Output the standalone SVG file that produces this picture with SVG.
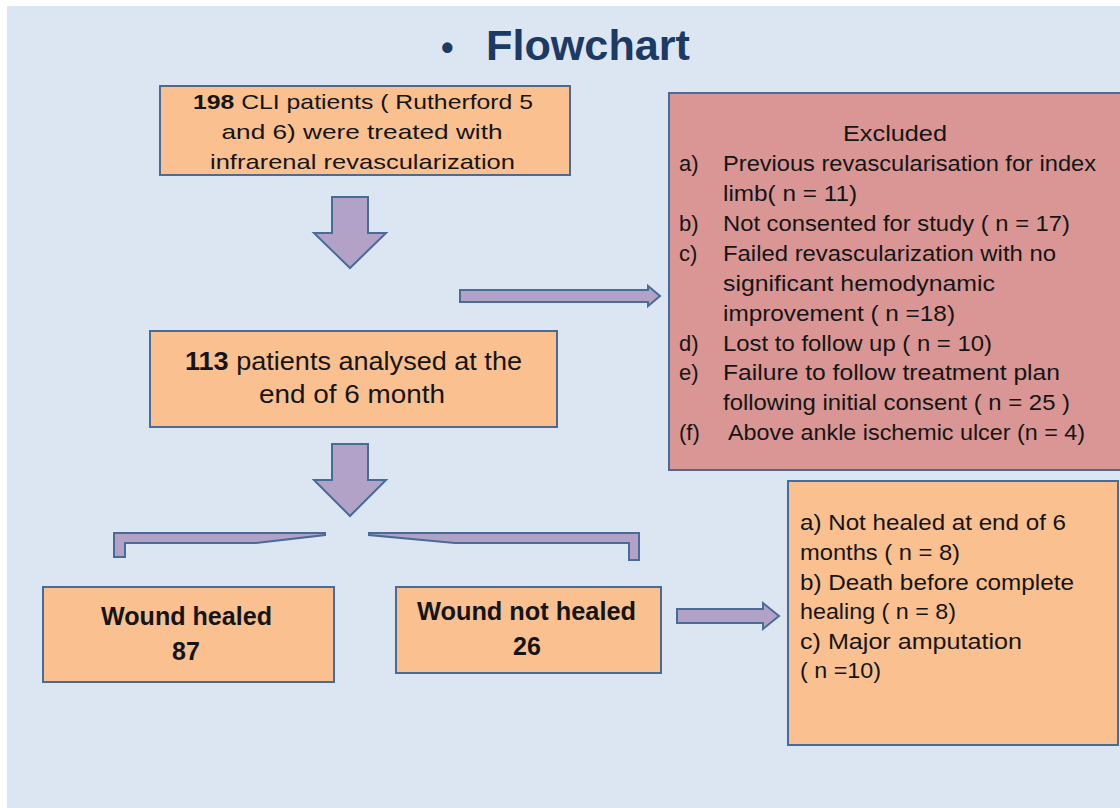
<svg xmlns="http://www.w3.org/2000/svg" width="1120" height="808" viewBox="0 0 1120 808">
<style>
.box{fill:#fac090;stroke:#4a6b96;stroke-width:2}
.exc{fill:#d99694;stroke:#4a6b96;stroke-width:2}
.arr{fill:#b3a2c7;stroke:#4a6b96;stroke-width:2;stroke-linejoin:miter}
text{font-family:"Liberation Sans",Arial,sans-serif;fill:#151515}
.t1{font-size:21px}
.t2{font-size:26px}
.tl{font-size:22px}
.tb{font-size:25px;font-weight:bold}
.title{font-size:43px;font-weight:bold;fill:#1c3a63}
</style>
<rect x="0" y="0" width="1120" height="808" fill="#ffffff"/>
<rect x="7" y="6" width="1113" height="802" fill="#dce6f2"/>

<g id="title">
<text class="title" y="60"><tspan x="441" font-size="36">•</tspan><tspan x="486" textLength="204" lengthAdjust="spacingAndGlyphs">Flowchart</tspan></text>
</g>

<g id="connectors">
<path class="arr" d="M332,197 L368,197 L368,233 L386,233 L350,268 L314,233 L332,233 Z"/>
<path class="arr" d="M332,444 L368,444 L368,480 L386,480 L350,516 L314,480 L332,480 Z"/>
<path class="arr" d="M460,290 L648,290 L648,286 L660,296 L648,306 L648,302 L460,302 Z"/>
<path class="arr" d="M677,609 L763,609 L763,603 L779,616 L763,629 L763,623 L677,623 Z"/>
<path class="arr" d="M114,533 L325,533 L325,535 L256,543 L125,543 L125,557 L114,557 Z"/>
<path class="arr" d="M369,533 L639,533 L639,560 L629,560 L629,543 L455,543 L369,535 Z"/>
</g>

<g id="box1">
<rect class="box" x="160" y="86" width="410" height="89"/>
<text class="t1" x="363" y="109" text-anchor="middle" textLength="340" lengthAdjust="spacingAndGlyphs"><tspan font-weight="bold">198</tspan> CLI patients ( Rutherford 5</text>
<text class="t1" x="362" y="139" text-anchor="middle" textLength="281" lengthAdjust="spacingAndGlyphs">and 6) were treated with</text>
<text class="t1" x="362.5" y="169" text-anchor="middle" textLength="305" lengthAdjust="spacingAndGlyphs">infrarenal revascularization</text>
</g>

<g id="excluded">
<rect class="exc" x="669" y="93" width="460" height="377"/>
<text class="tl" x="895" y="141" text-anchor="middle" font-size="23" textLength="104" lengthAdjust="spacingAndGlyphs">Excluded</text>
<text class="tl" x="679" y="171">a)</text>
<text class="tl" x="723" y="171" textLength="373" lengthAdjust="spacingAndGlyphs">Previous revascularisation for index</text>
<text class="tl" x="723" y="201" textLength="134" lengthAdjust="spacingAndGlyphs">limb( n = 11)</text>
<text class="tl" x="679" y="231">b)</text>
<text class="tl" x="723" y="231" textLength="347" lengthAdjust="spacingAndGlyphs">Not consented for study ( n = 17)</text>
<text class="tl" x="679" y="261">c)</text>
<text class="tl" x="723" y="261" textLength="333" lengthAdjust="spacingAndGlyphs">Failed revascularization with no</text>
<text class="tl" x="723" y="291" textLength="272" lengthAdjust="spacingAndGlyphs">significant  hemodynamic</text>
<text class="tl" x="723" y="321" textLength="232" lengthAdjust="spacingAndGlyphs">improvement ( n =18)</text>
<text class="tl" x="679" y="351">d)</text>
<text class="tl" x="723" y="351" textLength="269" lengthAdjust="spacingAndGlyphs">Lost to follow up ( n = 10)</text>
<text class="tl" x="679" y="380">e)</text>
<text class="tl" x="723" y="380" textLength="337" lengthAdjust="spacingAndGlyphs">Failure to follow treatment plan</text>
<text class="tl" x="723" y="410" textLength="347" lengthAdjust="spacingAndGlyphs">following initial consent ( n = 25 )</text>
<text class="tl" x="679" y="440">(f)</text>
<text class="tl" x="728" y="440" textLength="357" lengthAdjust="spacingAndGlyphs">Above ankle ischemic ulcer (n = 4)</text>
</g>

<g id="box2">
<rect class="box" x="150" y="331" width="407" height="96"/>
<text class="t2" x="353.5" y="370" text-anchor="middle" textLength="337" lengthAdjust="spacingAndGlyphs"><tspan font-weight="bold">113</tspan> patients analysed at the</text>
<text class="t2" x="352" y="403" text-anchor="middle" textLength="186" lengthAdjust="spacingAndGlyphs">end of 6 month</text>
</g>

<g id="healed">
<rect class="box" x="43" y="587" width="291" height="95"/>
<text class="tb" x="186.5" y="625" text-anchor="middle" textLength="171" lengthAdjust="spacingAndGlyphs">Wound healed</text>
<text class="tb" x="186" y="660" text-anchor="middle">87</text>
</g>

<g id="nothealed">
<rect class="box" x="396" y="587" width="265" height="86"/>
<text class="tb" x="526.5" y="620" text-anchor="middle" textLength="219" lengthAdjust="spacingAndGlyphs">Wound not healed</text>
<text class="tb" x="527" y="655" text-anchor="middle">26</text>
</g>

<g id="reasons">
<rect class="box" x="788" y="481" width="330" height="264"/>
<text class="tl" x="800" y="530" textLength="266" lengthAdjust="spacingAndGlyphs">a) Not healed at end of 6</text>
<text class="tl" x="800" y="560" textLength="160" lengthAdjust="spacingAndGlyphs">months ( n = 8)</text>
<text class="tl" x="800" y="590" textLength="274" lengthAdjust="spacingAndGlyphs">b) Death before complete</text>
<text class="tl" x="800" y="619" textLength="156" lengthAdjust="spacingAndGlyphs">healing ( n = 8)</text>
<text class="tl" x="800" y="649" textLength="222" lengthAdjust="spacingAndGlyphs">c) Major amputation</text>
<text class="tl" x="800" y="678" textLength="81" lengthAdjust="spacingAndGlyphs">( n =10)</text>
</g>
</svg>
